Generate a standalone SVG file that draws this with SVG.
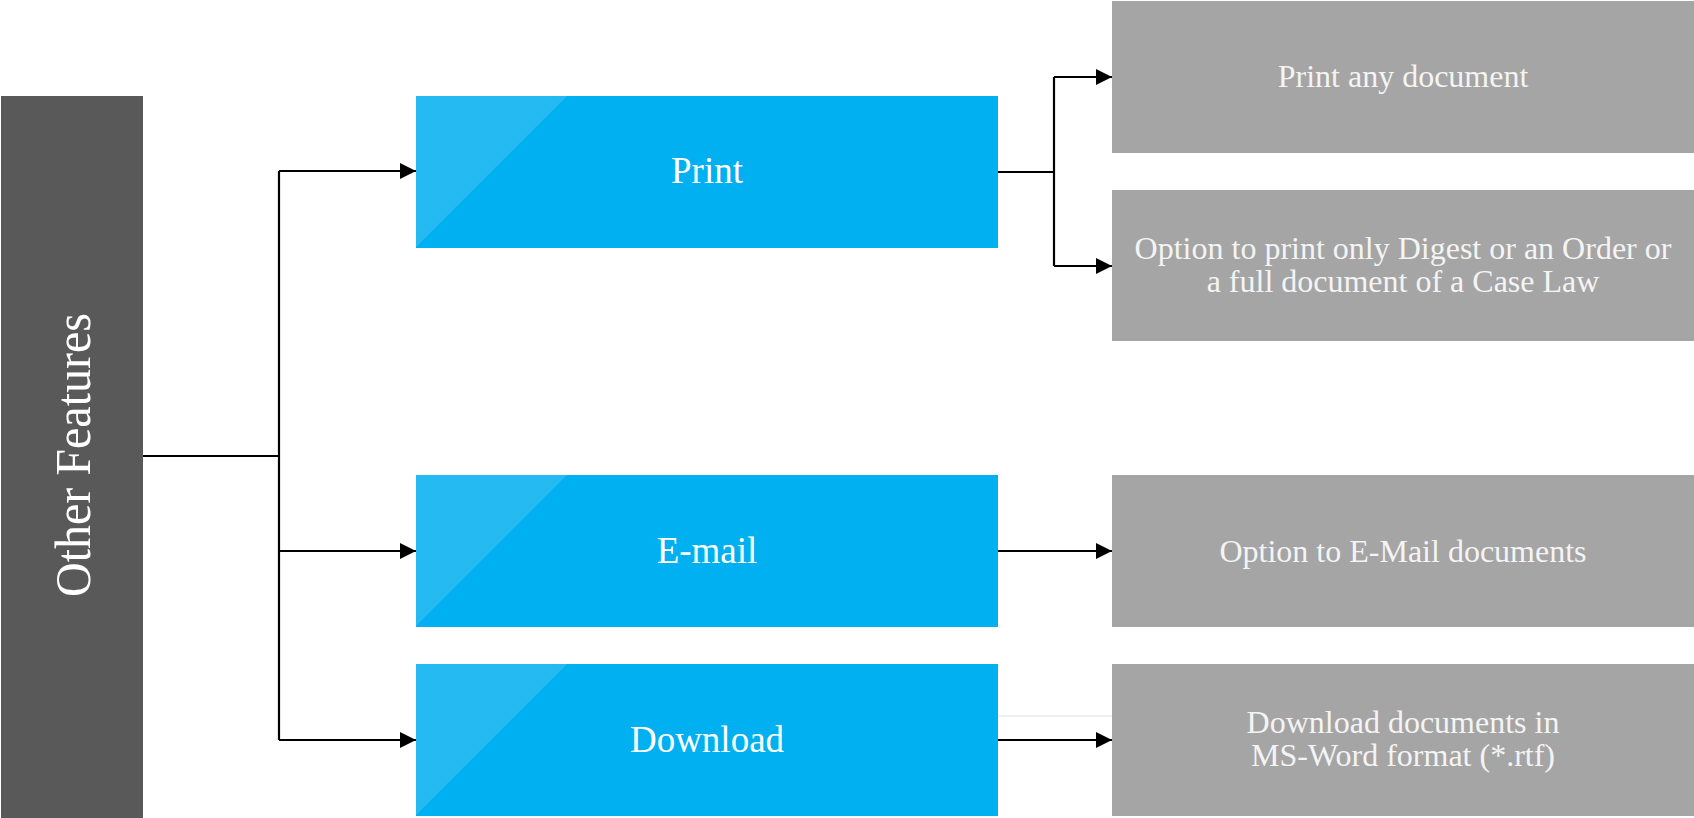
<svg xmlns="http://www.w3.org/2000/svg" width="1694" height="818" viewBox="0 0 1694 818">
<style>
.dark{fill:#595959}
.blue{fill:#00B0F0}
.hl{fill:#26BAF2}
.grey{fill:#A5A5A5}
.lbl{font-family:"Liberation Serif","Times New Roman",serif;fill:#FFFFFF;text-anchor:middle}
.big{font-size:37px}
.sm{font-size:32px;fill:#F4F4F4}
.conn{fill:none;stroke:#000;stroke-width:2.2}
</style>
<defs>
<marker id="arr" viewBox="0 0 16 16" refX="16" refY="8" markerWidth="16" markerHeight="16" markerUnits="userSpaceOnUse" orient="auto">
<path d="M0,0 L16,8 L0,16 Z" fill="#000"/>
</marker>
</defs>
<rect width="1694" height="818" fill="#FFFFFF"/>
<rect x="998" y="715" width="114" height="2" fill="#F0F0F0"/>
<g id="connectors">
<polyline class="conn" points="143,456 279,456"/>
<polyline class="conn" points="279,171 279,740"/>
<polyline class="conn" points="279,171 416,171" marker-end="url(#arr)"/>
<polyline class="conn" points="279,551 416,551" marker-end="url(#arr)"/>
<polyline class="conn" points="279,740 416,740" marker-end="url(#arr)"/>
<polyline class="conn" points="998,172 1054,172"/>
<polyline class="conn" points="1054,77 1054,266"/>
<polyline class="conn" points="1054,77 1112,77" marker-end="url(#arr)"/>
<polyline class="conn" points="1054,266 1112,266" marker-end="url(#arr)"/>
<polyline class="conn" points="998,551 1112,551" marker-end="url(#arr)"/>
<polyline class="conn" points="998,740 1112,740" marker-end="url(#arr)"/>
</g>
<g id="other-features">
<rect class="dark" x="1" y="96" width="142" height="722"/>
<text class="lbl" font-size="50" textLength="284" lengthAdjust="spacingAndGlyphs" transform="translate(90,455) rotate(-90)">Other Features</text>
</g>
<g id="print">
<rect class="blue" x="416" y="96" width="582" height="152"/>
<polygon class="hl" points="416,96 567,96 416,247"/>
<text class="lbl big" x="707" y="183">Print</text>
</g>
<g id="email">
<rect class="blue" x="416" y="475" width="582" height="152"/>
<polygon class="hl" points="416,475 567,475 416,626"/>
<text class="lbl big" x="707" y="563">E-mail</text>
</g>
<g id="download">
<rect class="blue" x="416" y="664" width="582" height="152"/>
<polygon class="hl" points="416,664 567,664 416,815"/>
<text class="lbl big" x="707" y="752">Download</text>
</g>
<g id="print-any">
<rect class="grey" x="1112" y="1" width="582" height="152"/>
<text class="lbl sm" x="1403" y="87">Print any document</text>
</g>
<g id="print-option">
<rect class="grey" x="1112" y="190" width="582" height="151"/>
<text class="lbl sm" x="1403" y="259">Option to print only Digest or an Order or</text>
<text class="lbl sm" x="1403" y="292">a full document of a Case Law</text>
</g>
<g id="email-option">
<rect class="grey" x="1112" y="475" width="582" height="152"/>
<text class="lbl sm" x="1403" y="562">Option to E-Mail documents</text>
</g>
<g id="download-option">
<rect class="grey" x="1112" y="664" width="582" height="152"/>
<text class="lbl sm" x="1403" y="733">Download documents in</text>
<text class="lbl sm" x="1403" y="766">MS-Word format (*.rtf)</text>
</g>
</svg>
